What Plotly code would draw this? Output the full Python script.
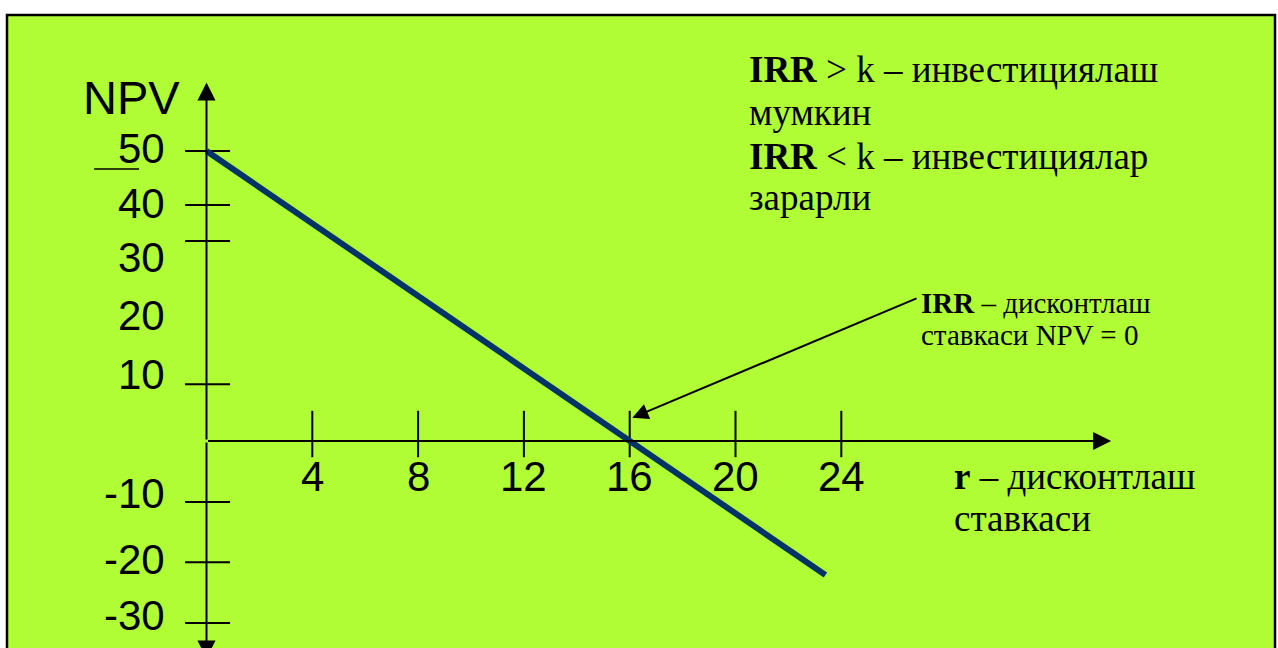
import plotly.graph_objects as go

# NPV profile: NPV falls as the discount rate r rises, crossing zero at IRR = 16
r_vals = [0, 16, 23.4]
npv_vals = [50, 0, -23.1]

# r axis ticks and labels
x_ticks = [4, 8, 12, 16, 20, 24]
x_tick_text = ["4", "8", "12", "16", "20", "24"]

# NPV axis: short tick bars and the numbers beside them (hand-drawn scale)
y_tick_marks = [50, 40.7, 34.5, 9.8, -10.5, -20.9, -31.4]
y_label_text = ["50", "40", "30", "20", "10", "-10", "-20", "-30"]
y_label_pos = [50.5, 40.9, 31.6, 21.7, 11.4, -9.1, -20.5, -30.0]

# axis extents
x_axis_end = 34.2
y_axis_top = 61.8
y_axis_bottom = -37.5

GREEN = "#B0FC35"
NAVY = "#003366"
SANS = "Liberation Sans, Arial, sans-serif"
SERIF = "Liberation Serif, Times New Roman, serif"

fig = go.Figure()

# tick bars on the r axis
tx, ty = [], []
for v in x_ticks:
    tx += [v, v, None]
    ty += [5.2, -2.8, None]
# tick bars on the NPV axis
for v in y_tick_marks:
    tx += [-0.81, 0.89, None]
    ty += [v, v, None]
fig.add_trace(go.Scatter(x=tx, y=ty, mode="lines",
                         line=dict(color="black", width=2),
                         hoverinfo="skip", showlegend=False))

# short stray rule under the 50 label
fig.add_trace(go.Scatter(x=[-4.25, -2.55], y=[46.9, 46.9], mode="lines",
                         line=dict(color="black", width=1.5),
                         hoverinfo="skip", showlegend=False))

# NPV line
fig.add_trace(go.Scatter(x=r_vals, y=npv_vals, mode="lines",
                         line=dict(color=NAVY, width=6),
                         hoverinfo="skip", showlegend=False))

annotations = []

def arrow(x, y, ax, ay, width=2, size=1.8):
    annotations.append(dict(x=x, y=y, ax=ax, ay=ay, xref="x", yref="y",
                            axref="x", ayref="y", text="", showarrow=True,
                            arrowhead=2, arrowwidth=width, arrowsize=size,
                            arrowcolor="black", standoff=0, startstandoff=0))

# axes with arrowheads
arrow(x_axis_end, 0, 0, 0)
arrow(0, y_axis_top, 0, 0)
arrow(0, y_axis_bottom, 0, 0)
# pointer to IRR
arrow(16.1, 4.0, 26.9, 24.7, width=2, size=1.6)

# r axis numbers
for v, t in zip(x_ticks, x_tick_text):
    annotations.append(dict(x=v, y=-6.1, xref="x", yref="y", text=t,
                            showarrow=False, xanchor="center", yanchor="middle",
                            font=dict(family=SANS, size=42, color="black")))

# NPV axis numbers
for v, t in zip(y_label_pos, y_label_text):
    annotations.append(dict(x=-1.49, y=v, xref="x", yref="y", text=t,
                            showarrow=False, xanchor="right", yanchor="middle",
                            font=dict(family=SANS, size=42, color="black")))

# axis title
annotations.append(dict(x=-2.85, y=59.3, xref="x", yref="y", text="NPV",
                        showarrow=False, xanchor="center", yanchor="middle",
                        font=dict(family=SANS, size=47, color="black")))

# decision rule text
rule_lines = ["<b>IRR</b> > k – инвестициялаш", "мумкин",
              "<b>IRR</b> < k – инвестициялар", "зарарли"]
rule_y = [64.1, 56.7, 49.1, 42.0]
for t, v in zip(rule_lines, rule_y):
    annotations.append(dict(x=20.42, y=v, xref="x", yref="y", text=t,
                            showarrow=False, xanchor="left", yanchor="middle",
                            font=dict(family=SERIF, size=37, color="black")))

# IRR explanation
irr_lines = ["<b>IRR</b> – дисконтлаш", "ставкаси NPV = 0"]
irr_y = [23.8, 18.3]
for t, v in zip(irr_lines, irr_y):
    annotations.append(dict(x=26.95, y=v, xref="x", yref="y", text=t,
                            showarrow=False, xanchor="left", yanchor="middle",
                            font=dict(family=SERIF, size=29, color="black")))

# r axis title
r_lines = ["<b>r</b> – дисконтлаш", "ставкаси"]
r_y = [-6.2, -13.4]
for t, v in zip(r_lines, r_y):
    annotations.append(dict(x=28.2, y=v, xref="x", yref="y", text=t,
                            showarrow=False, xanchor="left", yanchor="middle",
                            font=dict(family=SERIF, size=37, color="black")))

fig.update_layout(
    width=1278, height=648,
    margin=dict(l=0, r=0, t=0, b=0),
    paper_bgcolor="white",
    plot_bgcolor="rgba(0,0,0,0)",
    showlegend=False,
    xaxis=dict(range=[-7.807, 40.51], visible=False, fixedrange=True),
    yaxis=dict(range=[-35.69, 76.03], visible=False, fixedrange=True),
    shapes=[dict(type="rect", xref="paper", yref="paper",
                 x0=7 / 1278, x1=1275 / 1278, y0=-0.05, y1=1 - 15 / 648,
                 fillcolor=GREEN, line=dict(color="black", width=2.5),
                 layer="below")],
    annotations=annotations,
)

fig.write_html("out.html")
